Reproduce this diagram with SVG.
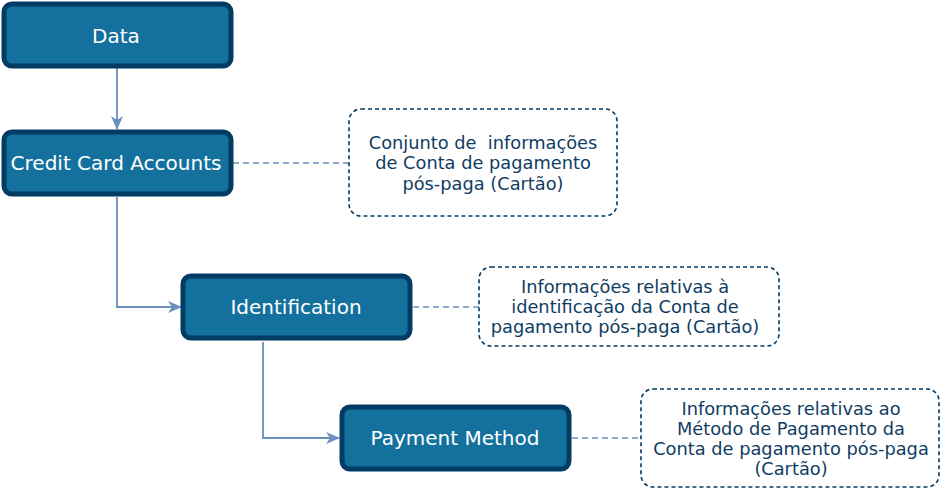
<svg xmlns="http://www.w3.org/2000/svg" width="942" height="490" viewBox="0 0 942 490">
<defs>
<style>
.node rect{fill:#14719e;stroke:#023c64;stroke-width:5}
.node text{font-family:"DejaVu Sans",Verdana,sans-serif;font-size:20px;fill:#ffffff;text-anchor:middle}
.note rect{fill:#ffffff;stroke:#033c64;stroke-width:1.6;stroke-dasharray:4 3}
.note text{font-family:"DejaVu Sans",Verdana,sans-serif;font-size:17.8px;fill:#0f3d63;text-anchor:middle;white-space:pre}
.edge{fill:none;stroke:#6c8ebf;stroke-width:1.8}
.dash{fill:none;stroke:#6c8ebf;stroke-width:1.6;stroke-dasharray:6 4}
</style>
<marker id="arr" viewBox="0 0 14 12" refX="13" refY="6" markerWidth="14" markerHeight="12" markerUnits="userSpaceOnUse" orient="auto">
<path d="M0,0 L14,6 L0,12 L4,6 Z" fill="#6c8ebf"/>
</marker>
</defs>
<g id="connectors">
<path class="edge" d="M117,68 V129" marker-end="url(#arr)"/>
<path class="edge" d="M117,197 V307 H181" marker-end="url(#arr)"/>
<path class="edge" d="M263,342 V438 H339" marker-end="url(#arr)"/>
<path class="dash" d="M233,163 H349"/>
<path class="dash" d="M413,307 H479"/>
<path class="dash" d="M572,438 H641"/>
</g>
<g id="data" class="node">
<rect x="4" y="4" width="227" height="62" rx="8"/>
<text x="116" y="43">Data</text>
</g>
<g id="credit" class="node">
<rect x="4" y="132" width="227" height="62" rx="8"/>
<text x="116" y="170">Credit Card Accounts</text>
</g>
<g id="identification" class="node">
<rect x="183" y="276" width="227" height="62" rx="8"/>
<text x="296" y="314">Identification</text>
</g>
<g id="payment" class="node">
<rect x="342" y="407" width="227" height="62" rx="8"/>
<text x="455" y="445">Payment Method</text>
</g>
<g id="note1" class="note">
<rect x="349" y="109" width="268" height="107" rx="12"/>
<text x="483" y="149" xml:space="preserve">Conjunto de  informações</text>
<text x="483" y="169">de Conta de pagamento</text>
<text x="483" y="190">pós-paga (Cartão)</text>
</g>
<g id="note2" class="note">
<rect x="479" y="267" width="300" height="79" rx="12"/>
<text x="625" y="293">Informações relativas à</text>
<text x="625" y="313">identificação da Conta de</text>
<text x="625" y="333">pagamento pós-paga (Cartão)</text>
</g>
<g id="note3" class="note">
<rect x="641" y="389" width="298" height="98" rx="12"/>
<text x="791" y="415">Informações relativas ao</text>
<text x="791" y="435">Método de Pagamento da</text>
<text x="791" y="455">Conta de pagamento pós-paga</text>
<text x="791" y="475">(Cartão)</text>
</g>
</svg>
